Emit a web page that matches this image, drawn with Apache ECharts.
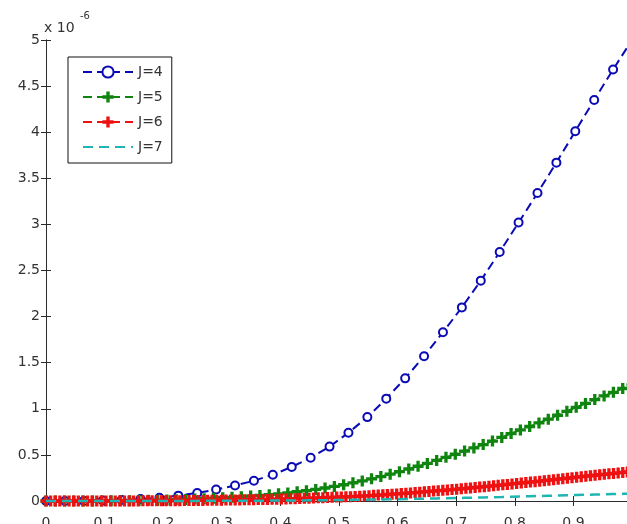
<!DOCTYPE html>
<html>
<head>
<meta charset="utf-8">
<script src="https://cdn.jsdelivr.net/npm/echarts@6/dist/echarts.min.js"></script>
<style>
  html, body { margin: 0; padding: 0; background: #fff; }
  #chart { width: 627px; height: 524px; }
</style>
</head>
<body>
<div id="chart"></div>
<script>
// Error curves for increasing resolution level J, sampled on uniform grids over [0, 1].
// All values are in units of 1e-6 (see the "x 10^-6" multiplier above the y axis).
const seriesNames = ['J=4', 'J=5', 'J=6', 'J=7'];

const errJ4 = [
  0, 0.0002, 0.0013, 0.0045, 0.011, 0.021, 0.036, 0.058, 0.087, 0.124, 0.168,
  0.22, 0.285, 0.37, 0.47, 0.59, 0.74, 0.91, 1.11, 1.33, 1.57, 1.83, 2.10,
  2.39, 2.70, 3.02, 3.34, 3.67, 4.01, 4.35, 4.68, 5.00
];

const errJ5 = [
  0, 0, 0.0001, 0.0001, 0.0004, 0.0006, 0.0011, 0.0018, 0.0026, 0.0038, 0.005,
  0.0069, 0.0088, 0.011, 0.014, 0.017, 0.021, 0.025, 0.030, 0.035, 0.040, 0.047,
  0.053, 0.060, 0.069, 0.078, 0.088, 0.101, 0.112, 0.126, 0.141, 0.158, 0.176,
  0.197, 0.218, 0.241, 0.265, 0.291, 0.318, 0.347, 0.377, 0.408, 0.440, 0.474,
  0.507, 0.542, 0.576, 0.612, 0.650, 0.689, 0.731, 0.771, 0.808, 0.847, 0.888,
  0.930, 0.973, 1.016, 1.058, 1.100, 1.140, 1.179, 1.220, 1.26
];

const errJ6 = [
  0, 0, 0, 0.00001, 0.00002, 0.00003, 0.00003, 0.00007, 0.0001, 0.00013,
  0.00016, 0.00023, 0.0003, 0.0004, 0.00045, 0.0006, 0.0007, 0.0009, 0.001,
  0.0012, 0.0013, 0.0016, 0.0018, 0.002, 0.0022, 0.0025, 0.0028, 0.0032,
  0.0035, 0.004, 0.0044, 0.0049, 0.0053, 0.0059, 0.0064, 0.0071, 0.0077,
  0.0084, 0.009, 0.0096, 0.0102, 0.011, 0.0118, 0.0126, 0.0134, 0.0144,
  0.0154, 0.0165, 0.0176, 0.0187, 0.0198, 0.0211, 0.0224, 0.024, 0.0256,
  0.027, 0.0285, 0.0302, 0.032, 0.0339, 0.0358, 0.0379, 0.040, 0.0424,
  0.0436, 0.0448, 0.0474, 0.050, 0.0527, 0.0554, 0.0582, 0.0611, 0.0641,
  0.0672, 0.0705, 0.0739, 0.0772, 0.0806, 0.0843, 0.088, 0.0918, 0.0957,
  0.0997, 0.1037, 0.1077, 0.1117, 0.116, 0.1203, 0.1244, 0.1286, 0.1331,
  0.1376, 0.1419, 0.1462, 0.1508, 0.1555, 0.1603, 0.1651, 0.17, 0.175,
  0.1803, 0.1856, 0.1907, 0.1958, 0.2004, 0.2051, 0.21, 0.215, 0.2203,
  0.2256, 0.2309, 0.2362, 0.2416, 0.247, 0.2524, 0.2579, 0.2633, 0.2688,
  0.2741, 0.2794, 0.2845, 0.2896, 0.2945, 0.2995, 0.3046, 0.3098, 0.3149, 0.32
];

const errJ7 = [
  0, 0, 0, 0, 0, 0, 0.0001, 0.0001, 0.0002, 0.0002, 0.0003, 0.0004, 0.0006,
  0.0007, 0.0009, 0.0011, 0.0013, 0.0016, 0.0019, 0.0022, 0.0026, 0.003,
  0.0034, 0.0038, 0.0044, 0.005, 0.0056, 0.0064, 0.0071, 0.008, 0.009, 0.010,
  0.0112, 0.0125, 0.0138, 0.0153, 0.0168, 0.0185, 0.0202, 0.022, 0.0239,
  0.0259, 0.0279, 0.0301, 0.0322, 0.0344, 0.0366, 0.0389, 0.0413, 0.0438,
  0.0464, 0.049, 0.0513, 0.0538, 0.0564, 0.059, 0.0618, 0.0645, 0.0672,
  0.0698, 0.0724, 0.0749, 0.0774, 0.08
];

// Axis ranges and tick steps
const xRange = [0, 1], xStep = 0.1;
const yRange = [0, 5], yStep = 0.5;

const colors = ['#0b0bb5', '#0f850f', '#ee1111', '#1fb5b0'];
const axisColor = '#2a2a2a';
const fontFamily = '"DejaVu Sans", sans-serif';

// Samples are evenly spaced from 0 to 1
function onGrid(values) {
  const n = values.length;
  return values.map((v, i) => [i / (n - 1), v]);
}

// A filled "+" glyph for the cross markers
const plusPath = 'path://M3.5,0H6.5V3.5H10V6.5H6.5V10H3.5V6.5H0V3.5H3.5Z';

const chart = echarts.init(document.getElementById('chart'), null, { renderer: 'canvas' });

const axisLineStyle = { show: true, lineStyle: { color: axisColor, width: 1 } };
const innerTick = { show: true, inside: true, length: 5, lineStyle: { color: axisColor, width: 1 } };
const labelStyle = { color: '#333', fontSize: 14, fontFamily: fontFamily };

function fmt(v) {
  return String(Math.round(v * 10) / 10);
}

chart.setOption({
  animation: false,
  backgroundColor: '#fff',
  grid: { left: 46, top: 40, width: 586, height: 461, containLabel: false, outerBoundsMode: 'none' },
  legend: {
    data: [
      { name: seriesNames[0] },
      { name: seriesNames[1] },
      { name: seriesNames[2] },
      { name: seriesNames[3], itemStyle: { opacity: 0 } }
    ],
    orient: 'vertical',
    left: 68,
    top: 57,
    itemWidth: 50,
    itemHeight: 14,
    itemGap: 11,
    padding: [8, 9, 9, 14],
    borderColor: '#111',
    borderWidth: 1,
    backgroundColor: '#fff',
    textStyle: { fontSize: 14, color: '#333', fontFamily: fontFamily }
  },
  xAxis: [
    {
      type: 'value', min: xRange[0], max: xRange[1], interval: xStep,
      position: 'bottom',
      axisLine: axisLineStyle, axisTick: innerTick, splitLine: { show: false },
      axisLabel: Object.assign({ margin: 15, formatter: fmt }, labelStyle)
    },
    {
      type: 'value', min: xRange[0], max: xRange[1], interval: xStep,
      position: 'top',
      axisLine: axisLineStyle, axisTick: innerTick, splitLine: { show: false },
      axisLabel: { show: false }
    }
  ],
  yAxis: [
    {
      type: 'value', min: yRange[0], max: yRange[1], interval: yStep,
      position: 'left',
      axisLine: axisLineStyle, axisTick: innerTick, splitLine: { show: false },
      axisLabel: Object.assign({ margin: 6, formatter: fmt }, labelStyle)
    },
    {
      type: 'value', min: yRange[0], max: yRange[1], interval: yStep,
      position: 'right',
      axisLine: axisLineStyle, axisTick: innerTick, splitLine: { show: false },
      axisLabel: { show: false }
    }
  ],
  graphic: [
    { type: 'text', left: 44, top: 21, style: { text: 'x 10', font: '14px ' + fontFamily, fill: '#333' } },
    { type: 'text', left: 80, top: 11, style: { text: '-6', font: '10px ' + fontFamily, fill: '#333' } }
  ],
  series: [
    {
      name: seriesNames[0], type: 'line', data: onGrid(errJ4), clip: false, z: 2,
      symbol: 'circle', symbolSize: 8, showAllSymbol: true,
      lineStyle: { color: colors[0], width: 2, type: [9, 5] },
      itemStyle: { color: '#fff', borderColor: colors[0], borderWidth: 2 }
    },
    {
      name: seriesNames[1], type: 'line', data: onGrid(errJ5), clip: false, z: 3,
      symbol: plusPath, symbolSize: 11, showAllSymbol: true,
      lineStyle: { color: colors[1], width: 2, type: [9, 5] },
      itemStyle: { color: colors[1], borderWidth: 0 }
    },
    {
      name: seriesNames[2], type: 'line', data: onGrid(errJ6), clip: false, z: 4,
      symbol: plusPath, symbolSize: 11, showAllSymbol: true,
      lineStyle: { color: colors[2], width: 2, type: [9, 5] },
      itemStyle: { color: colors[2], borderWidth: 0 }
    },
    {
      name: seriesNames[3], type: 'line', data: onGrid(errJ7), clip: false, z: 5,
      symbol: 'circle', symbolSize: 0, showSymbol: false,
      lineStyle: { color: colors[3], width: 2.5, type: [10, 6] },
      itemStyle: { color: colors[3] }
    }
  ]
});
</script>
</body>
</html>
